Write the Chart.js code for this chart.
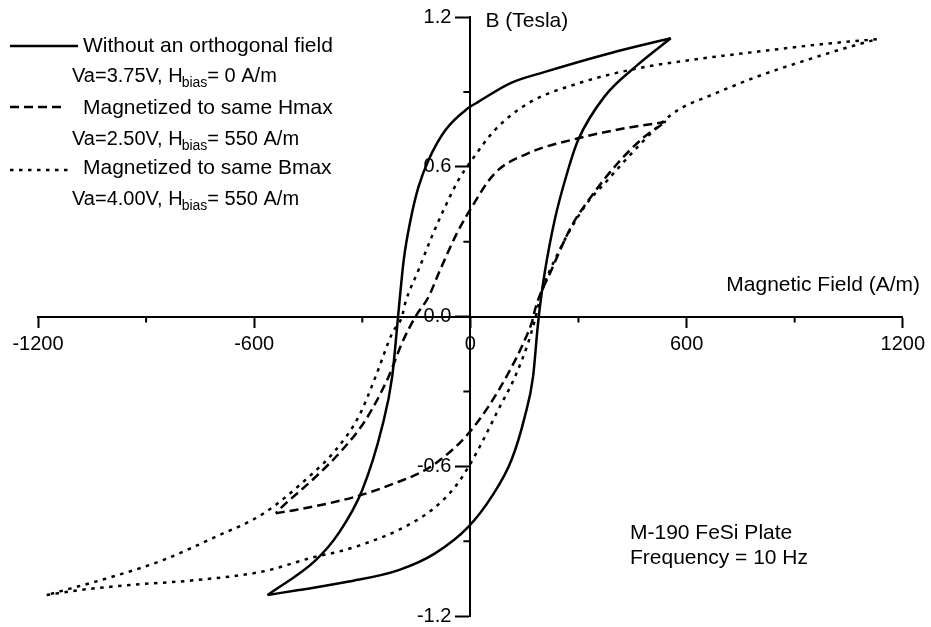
<!DOCTYPE html>
<html>
<head>
<meta charset="utf-8">
<script src="https://cdn.jsdelivr.net/npm/chart.js@4.4.1/dist/chart.umd.min.js"></script>
<style>
  html, body { margin: 0; padding: 0; background: #fff; }
  #wrap { width: 931px; height: 627px; }
</style>
</head>
<body>
<div id="wrap"><canvas id="loops" width="931" height="627"></canvas></div>
<script>
// axis ticks (labelled and small unlabelled ones)
const fieldTicks = [-1200, -600, 0, 600, 1200];
const fieldMinorTicks = [-900, -300, 300, 900];
const fluxTicks = [-1.2, -0.6, 0, 0.6, 1.2];
const fluxMinorTicks = [-0.9, -0.3, 0.3, 0.9];

// solid loop: no orthogonal field (Va=3.75V)
const plainDownH = [556, 390, 207, 113, 22, -5, -69, -116, -144, -166, -185, -199, -217, -245, -300, -365, -429, -563];
const plainDownB = [1.115, 1.056, 0.980, 0.936, 0.860, 0.836, 0.747, 0.627, 0.519, 0.387, 0.226, 0.026, -0.241, -0.442, -0.695, -0.867, -0.976, -1.116];
const plainUpH = [-563, -476, -337, -199, -98, -5, 59, 114, 151, 174, 186, 193, 206, 234, 271, 299, 372, 464, 556];
const plainUpB = [-1.116, -1.096, -1.062, -1.016, -0.949, -0.842, -0.722, -0.575, -0.401, -0.241, -0.054, 0.039, 0.173, 0.387, 0.587, 0.707, 0.881, 1.008, 1.115];

// dashed loop: same Hmax (Va=2.50V, Hbias=550)
const hmaxDownH = [543, 428, 299, 160, 68, -1, -42, -88, -116, -153, -190, -227, -291, -356, -429, -522, -540];
const hmaxDownB = [0.780, 0.754, 0.714, 0.654, 0.574, 0.427, 0.320, 0.173, 0.079, -0.002, -0.107, -0.241, -0.415, -0.535, -0.642, -0.762, -0.788];
const hmaxUpH = [-540, -485, -319, -199, -125, -61, -5, 50, 105, 151, 174, 179, 225, 280, 335, 409, 483, 543];
const hmaxUpB = [-0.788, -0.775, -0.722, -0.662, -0.615, -0.548, -0.468, -0.361, -0.228, -0.094, -0.007, 0.026, 0.186, 0.360, 0.480, 0.614, 0.720, 0.780];

// dotted loop: same Bmax (Va=4.00V, Hbias=550)
const bmaxDownH = [1128, 981, 796, 612, 464, 299, 160, 68, 4, -33, -70, -107, -144, -181, -190, -217, -263, -310, -374, -448, -577, -706, -853, -992, -1176];
const bmaxDownB = [1.111, 1.092, 1.061, 1.028, 0.994, 0.934, 0.854, 0.747, 0.627, 0.547, 0.440, 0.320, 0.186, 0.053, -0.001, -0.067, -0.241, -0.401, -0.535, -0.642, -0.792, -0.882, -0.976, -1.042, -1.116];
const bmaxUpH = [-1176, -1084, -946, -761, -577, -429, -365, -291, -199, -107, -42, -5, 31, 77, 124, 160, 179, 197, 243, 317, 381, 474, 556, 593, 658, 796, 934, 1054, 1128];
const bmaxUpB = [-1.116, -1.096, -1.076, -1.056, -1.022, -0.962, -0.942, -0.909, -0.855, -0.775, -0.682, -0.602, -0.508, -0.375, -0.241, -0.107, -0.014, 0.093, 0.253, 0.440, 0.547, 0.694, 0.807, 0.841, 0.881, 0.961, 1.028, 1.081, 1.111];

const FONT = '"Liberation Sans", Arial, sans-serif';

function pts(hs, bs) {
    return hs.map((h, i) => ({ x: h, y: bs[i] }));
}

function branch(hs, bs, dash, width) {
    return {
        data: pts(hs, bs),
        showLine: true,
        borderColor: '#000',
        borderWidth: width,
        borderDash: dash,
        borderCapStyle: 'butt',
        pointRadius: 0,
        cubicInterpolationMode: 'monotone',
        fill: false,
        clip: false
    };
}

const solid = [];
const dashed = [9, 5];
const dotted = [3.5, 5.5];

// subscripted "Hbias" line under each legend entry
function biasLine(ctx, x, y, va, bias) {
    ctx.font = '20px ' + FONT;
    const head = 'Va=' + va + 'V, H';
    ctx.fillText(head, x, y);
    let cx = x + ctx.measureText(head).width - 1;
    ctx.font = '14px ' + FONT;
    ctx.fillText('bias', cx, y + 7);
    cx += ctx.measureText('bias').width;
    ctx.font = '20px ' + FONT;
    ctx.fillText('= ' + bias + ' A/m', cx, y);
}

function sample(ctx, x1, x2, y, dash) {
    ctx.save();
    ctx.strokeStyle = '#000';
    ctx.lineWidth = 2.5;
    ctx.setLineDash(dash);
    ctx.beginPath();
    ctx.moveTo(x1, y);
    ctx.lineTo(x2, y);
    ctx.stroke();
    ctx.restore();
}

const annotations = {
    id: 'annotations',
    afterDraw(chart) {
        const ctx = chart.ctx;
        const xs = chart.scales.x;
        const ys = chart.scales.y;
        const x0 = xs.getPixelForValue(0);
        const y0 = ys.getPixelForValue(0);

        // short unlabelled ticks
        ctx.save();
        ctx.strokeStyle = '#000';
        ctx.lineWidth = 2;
        ctx.beginPath();
        fieldMinorTicks.forEach(v => {
            const px = xs.getPixelForValue(v);
            ctx.moveTo(px, y0);
            ctx.lineTo(px, y0 + 6);
        });
        fluxMinorTicks.forEach(v => {
            const py = ys.getPixelForValue(v);
            ctx.moveTo(x0, py);
            ctx.lineTo(x0 - 7, py);
        });
        ctx.stroke();

        ctx.fillStyle = '#000';
        ctx.textBaseline = 'middle';

        // B labels sit left of the tick marks
        ctx.textAlign = 'right';
        ctx.font = '20px ' + FONT;
        fluxTicks.forEach(v => {
            ctx.fillText(v.toFixed(1), x0 - 19, ys.getPixelForValue(v));
        });

        // axis titles
        ctx.font = '21px ' + FONT;
        ctx.fillText('Magnetic Field (A/m)', 920, 285);
        ctx.textAlign = 'left';
        ctx.fillText('B (Tesla)', x0 + 15, 21);

        // legend
        sample(ctx, 10, 78, 46, solid);
        ctx.font = '21px ' + FONT;
        ctx.fillText('Without an orthogonal field', 83, 46);
        biasLine(ctx, 72, 76, '3.75', '0');

        sample(ctx, 10, 62, 107, dashed);
        ctx.font = '21px ' + FONT;
        ctx.fillText('Magnetized to same Hmax', 83, 108);
        biasLine(ctx, 72, 139, '2.50', '550');

        sample(ctx, 10, 68, 170, dotted);
        ctx.font = '21px ' + FONT;
        ctx.fillText('Magnetized to same Bmax', 83, 168);
        biasLine(ctx, 72, 199, '4.00', '550');

        // sample description
        ctx.font = '21px ' + FONT;
        ctx.fillText('M-190 FeSi Plate', 630, 533);
        ctx.fillText('Frequency = 10 Hz', 630, 558);
        ctx.restore();
    }
};

const ctx = document.getElementById('loops').getContext('2d');

new Chart(ctx, {
    type: 'scatter',
    data: {
        datasets: [
            branch(plainDownH, plainDownB, solid, 2.5),
            branch(plainUpH, plainUpB, solid, 2.5),
            branch(hmaxDownH, hmaxDownB, dashed, 2.5),
            branch(hmaxUpH, hmaxUpB, dashed, 2.5),
            branch(bmaxDownH, bmaxDownB, dotted, 2.5),
            branch(bmaxUpH, bmaxUpB, dotted, 2.5)
        ]
    },
    options: {
        responsive: false,
        animation: false,
        layout: {
            padding: { left: 38, right: 25, top: 17, bottom: 11 }
        },
        plugins: {
            legend: { display: false },
            tooltip: { enabled: false }
        },
        scales: {
            x: {
                type: 'linear',
                min: -1200,
                max: 1200,
                position: { y: 0 },
                afterBuildTicks: s => { s.ticks = fieldTicks.map(v => ({ value: v })); },
                afterFit: s => { s.height = 0; },
                grid: { drawOnChartArea: false, drawTicks: true, tickLength: 10, tickWidth: 2, tickColor: '#000' },
                border: { display: true, color: '#000', width: 2 },
                ticks: {
                    color: '#000',
                    font: { family: FONT, size: 20 },
                    padding: 6,
                    maxRotation: 0,
                    autoSkip: false,
                    callback: v => String(v)
                }
            },
            y: {
                type: 'linear',
                min: -1.2,
                max: 1.2,
                position: { x: 0 },
                afterBuildTicks: s => { s.ticks = fluxTicks.map(v => ({ value: v })); },
                afterFit: s => { s.width = 0; },
                grid: { drawOnChartArea: false, drawTicks: true, tickLength: 14, tickWidth: 2, tickColor: '#000' },
                border: { display: true, color: '#000', width: 2 },
                ticks: { display: false }
            }
        }
    },
    plugins: [annotations]
});
</script>
</body>
</html>
